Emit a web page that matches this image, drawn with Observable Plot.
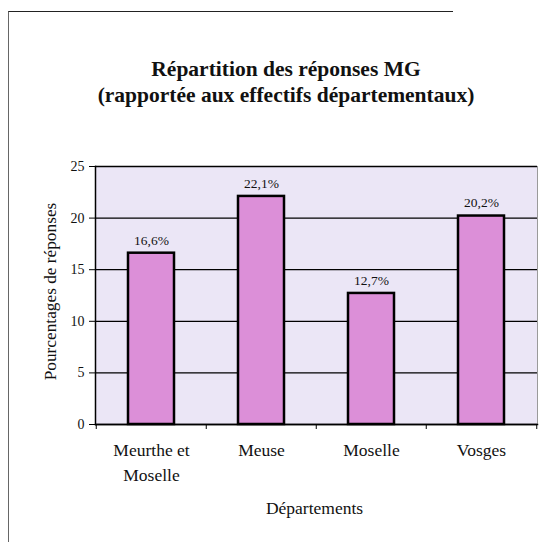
<!DOCTYPE html>
<html>
<head>
<meta charset="utf-8">
<script src="https://cdn.jsdelivr.net/npm/d3@7"></script>
<script src="https://cdn.jsdelivr.net/npm/@observablehq/plot@0.6"></script>
<style>
  html, body { margin: 0; padding: 0; background: #fff; }
  #wrap { position: relative; width: 544px; height: 542px; overflow: hidden; background: #fff; }
  #border { position: absolute; left: 8px; top: 11px; width: 444px; height: 540px;
            border-top: 1.5px solid #222; border-left: 1.5px solid #666; }
  #title { position: absolute; left: 14px; top: 56px; width: 544px; text-align: center;
           font: bold 21.5px "Liberation Serif", "DejaVu Serif", serif; line-height: 26px; color: #111; }
  #chart { position: absolute; left: 0; top: 0; }
</style>
</head>
<body>
<div id="wrap">
  <div id="border"></div>
  <div id="chart"></div>
  <div id="title">Répartition des réponses MG<br>(rapportée aux effectifs départementaux)</div>
</div>
<script>
const departements = ["Meurthe et\nMoselle", "Meuse", "Moselle", "Vosges"];
const pourcentages = [16.6, 22.1, 12.7, 20.2];
const etiquettes = ["16,6%", "22,1%", "12,7%", "20,2%"];
const yTicks = [0, 5, 10, 15, 20, 25];
const yTitle = "Pourcentages de réponses";
const xTitle = "Départements";

const data = departements.map((d, i) => ({dep: d, val: pourcentages[i], lab: etiquettes[i]}));

const W = 544, H = 542, mL = 95, mR = 7, mT = 166, mB = 118;
const step = (W - mL - mR) / departements.length;
const serif = "'Liberation Serif', 'DejaVu Serif', serif";

const chart = Plot.plot({
  width: W, height: H,
  marginLeft: mL, marginRight: mR, marginTop: mT, marginBottom: mB,
  style: {fontFamily: serif, color: "#111", background: "transparent", overflow: "visible"},
  x: {domain: departements, paddingInner: 0.58, paddingOuter: 0.29, axis: null},
  y: {domain: [0, 25], axis: null},
  marks: [
    Plot.frame({fill: "#ebe6f6", stroke: "#9a9a9a", strokeWidth: 1}),
    Plot.gridY(yTicks, {stroke: "#000", strokeOpacity: 1, strokeWidth: 1.3}),
    Plot.frame({anchor: "left", stroke: "#000", strokeWidth: 1.5}),
    Plot.frame({anchor: "bottom", stroke: "#000", strokeWidth: 1.5}),
    Plot.barY(data, {x: "dep", y: "val", fill: "#dc8fd8", stroke: "#000", strokeWidth: 2.5}),
    Plot.text(data, {x: "dep", y: "val", text: "lab", dy: -13, fontSize: 13.5, fill: "#111"}),
    Plot.axisY({ticks: yTicks, tickSize: 6, tickPadding: 5, fontSize: 14, label: null, stroke: "#000"}),
    Plot.axisX({text: null, tickSize: 5, dx: -step / 2, stroke: "#000", label: null}),
    Plot.axisX(departements.slice(-1), {text: null, tickSize: 5, dx: step / 2, stroke: "#000", label: null}),
    Plot.axisX({tickSize: 0, tickPadding: 14, fontSize: 17.5, lineHeight: 1.43, label: null}),
    Plot.text([xTitle], {frameAnchor: "bottom", lineAnchor: "middle", dx: -2, dy: 84, fontSize: 17.5, fill: "#111"}),
    Plot.text([yTitle], {frameAnchor: "left", textAnchor: "middle", rotate: -90, dx: -45, dy: -4, fontSize: 17.3, fill: "#111"})
  ]
});
document.getElementById("chart").appendChild(chart);
</script>
</body>
</html>
